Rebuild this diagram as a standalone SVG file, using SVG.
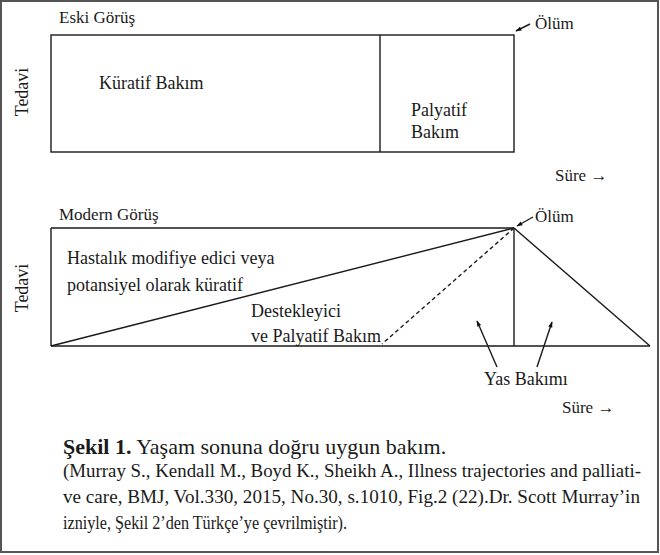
<svg xmlns="http://www.w3.org/2000/svg" width="660" height="555" viewBox="0 0 660 555">
<defs>
<marker id="ah" viewBox="0 0 10 10" refX="9" refY="5" markerWidth="8" markerHeight="6" orient="auto-start-reverse" markerUnits="userSpaceOnUse"><path d="M0,1.5 L10,5 L0,8.5 z" fill="#111"/></marker>
</defs>
<style>
text{font-family:"Liberation Serif","Times New Roman",serif;fill:#1a1a1a}
.t{font-size:18px}
.h{font-size:17px}
.ln{stroke:#1a1a1a;stroke-width:1.4;fill:none}
.cap{font-size:18px}
</style>
<rect x="1" y="1" width="657" height="551" fill="#fff" stroke="#555" stroke-width="2"/>
<g id="old-view">
<text class="h" x="59" y="23">Eski Görüş</text>
<rect class="ln" x="51" y="35" width="463" height="117"/>
<line class="ln" x1="380" y1="35" x2="380" y2="152"/>
<text class="t" transform="translate(28,92) rotate(-90)" text-anchor="middle">Tedavi</text>
<text class="t" x="99" y="89">Küratif Bakım</text>
<text class="t" x="411" y="116">Palyatif</text>
<text class="t" x="411" y="138">Bakım</text>
<text class="h" x="535" y="29">Ölüm</text>
<text class="h" x="555" y="181">Süre →</text>
</g>
<g id="modern-view">
<text class="h" x="59" y="220">Modern Görüş</text>
<text class="t" transform="translate(28,288) rotate(-90)" text-anchor="middle">Tedavi</text>
<text class="t" x="67" y="264">Hastalık modifiye edici veya</text>
<text class="t" x="67" y="291">potansiyel olarak küratif</text>
<text class="t" x="251" y="317">Destekleyici</text>
<text class="t" x="251" y="342">ve Palyatif Bakım</text>
<text class="h" x="535" y="222">Ölüm</text>
<text class="t" x="484" y="385">Yas Bakımı</text>
<text class="h" x="562" y="413">Süre →</text>
</g>
<g id="connectors">
<line class="ln" x1="530" y1="24" x2="516" y2="31" marker-end="url(#ah)"/>
<line class="ln" x1="51" y1="228" x2="514" y2="228"/>
<line class="ln" x1="51" y1="228" x2="51" y2="346"/>
<line class="ln" x1="51" y1="346" x2="650" y2="346"/>
<line class="ln" x1="514" y1="228" x2="514" y2="346"/>
<line class="ln" x1="51" y1="346" x2="514" y2="228"/>
<line class="ln" x1="514" y1="228" x2="650" y2="346"/>
<line class="ln" x1="514" y1="228" x2="382" y2="344" stroke-dasharray="4,3"/>
<line class="ln" x1="533" y1="217" x2="517" y2="226" marker-end="url(#ah)"/>
<line class="ln" x1="497" y1="367" x2="477" y2="321" marker-end="url(#ah)"/>
<line class="ln" x1="537" y1="367" x2="552" y2="322" marker-end="url(#ah)"/>
</g>
<g id="caption">
<text x="63" y="454" style="font-size:22px"><tspan font-weight="bold">Şekil 1.</tspan> Yaşam sonuna doğru uygun bakım.</text>
<text class="cap" x="63" y="477" textLength="578" lengthAdjust="spacingAndGlyphs">(Murray S., Kendall M., Boyd K., Sheikh A., Illness trajectories and palliati-</text>
<text class="cap" x="63" y="503" textLength="577" lengthAdjust="spacingAndGlyphs">ve care, BMJ, Vol.330, 2015, No.30, s.1010, Fig.2 (22).Dr. Scott Murray’in</text>
<text class="cap" x="63" y="529" textLength="284" lengthAdjust="spacingAndGlyphs">izniyle, Şekil 2’den Türkçe’ye çevrilmiştir).</text>
</g>
</svg>
